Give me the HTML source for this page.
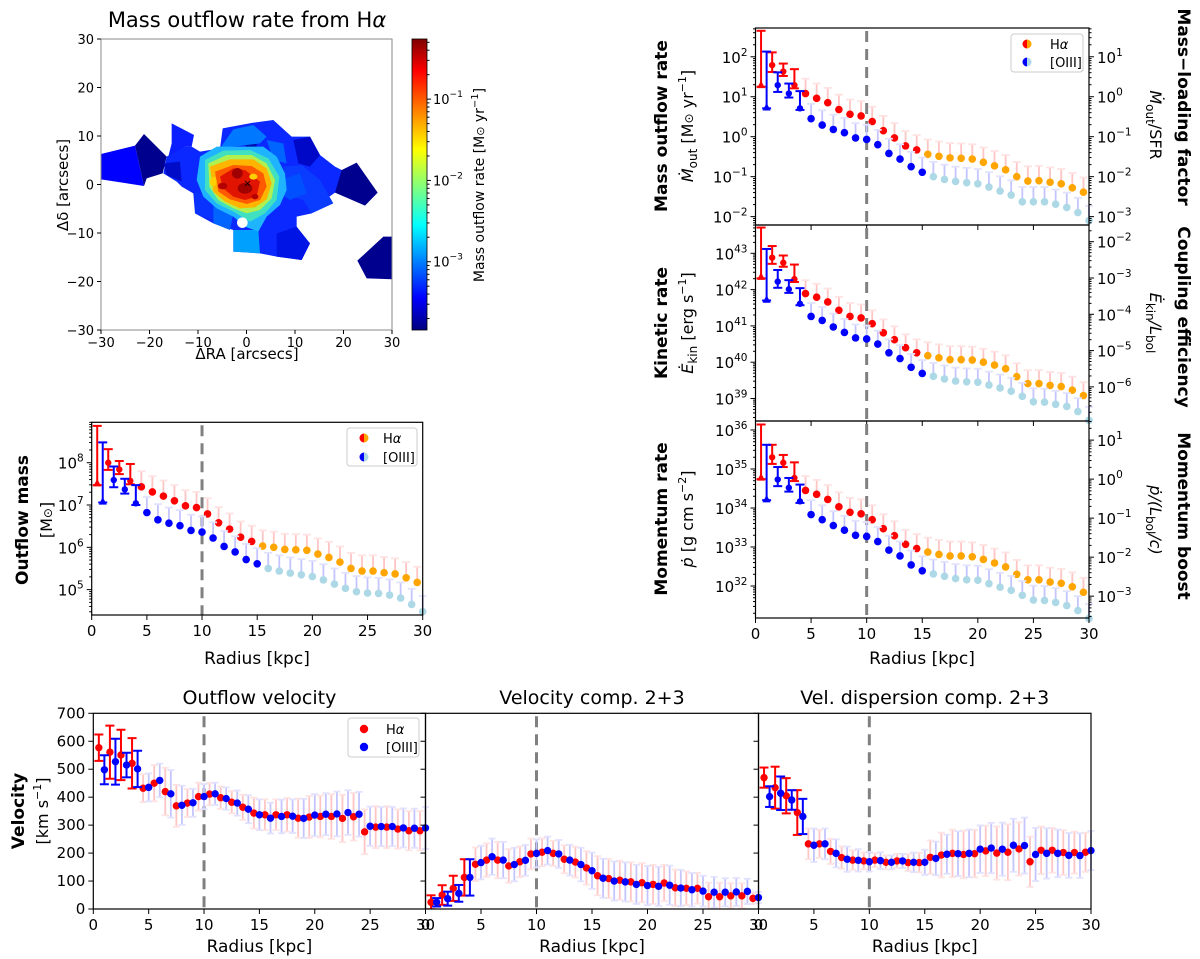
<!DOCTYPE html>
<html><head><meta charset="utf-8">
<style>
html,body{margin:0;padding:0;background:#fff;}
svg{display:block;font-family:"DejaVu Sans","Liberation Sans",sans-serif;}
</style></head>
<body>
<svg id="fig" width="1200" height="959" viewBox="0 0 1200 959" xmlns="http://www.w3.org/2000/svg">
<defs>
<linearGradient id="jet" x1="0" y1="1" x2="0" y2="0">
<stop offset="0" stop-color="#00007f"/><stop offset="0.11" stop-color="#0000ff"/><stop offset="0.36" stop-color="#00ffff"/><stop offset="0.62" stop-color="#ffff00"/><stop offset="0.89" stop-color="#ff0000"/><stop offset="1" stop-color="#7f0000"/>
</linearGradient>
<clipPath id="mapclip"><rect x="101" y="39" width="291" height="291"/></clipPath>
</defs>
<!-- Map -->
<g clip-path="url(#mapclip)">
<g transform="scale(0.33333)">
<polygon fill="#0000ff" points="303,462 405,437 432,558 303,538"/>
<polygon fill="#00008f" points="405,437 432,402 500,470 488,520 440,535 432,558"/>
<polygon fill="#0a1eff" points="515,370 582,405 575,440 555,440 545,470 505,470 515,430"/>
<polygon fill="#00008f" points="1005,520 1070,488 1133,578 1095,617 1005,578"/>
<polygon fill="#00008f" points="1072,782 1150,710 1180,710 1180,838 1100,835"/>
<polygon fill="#0a28ff" points="490,520 500,470 555,440 575,440 600,455 660,445 668,385 760,368 820,360 875,410 930,410 960,465 1005,500 1025,510 1005,578 960,610 935,640 890,650 890,700 930,730 905,780 830,770 780,760 700,755 700,690 640,670 585,640 580,580 545,560 530,545"/>
<polygon fill="#000cc8" points="490,490 540,485 545,545 500,525"/>
<polygon fill="#0a3cff" points="850,500 905,495 960,540 1000,610 935,640 910,600 870,590"/>
<polygon fill="#0050ff" points="840,540 900,520 920,580 870,600 840,580"/>
<polygon fill="#0014e6" points="830,700 890,680 930,730 905,780 830,770"/>
<polygon fill="#0008c8" points="880,420 930,410 960,465 930,500 895,490"/>
<polygon fill="#0a32ff" points="585,575 650,600 640,660 585,640"/>
<polygon fill="#000cb0" points="735,430 770,420 770,460 740,455"/>
<polygon fill="#00a0ff" points="700,690 775,690 780,760 700,755"/>
<polygon fill="#0078ff" points="660,445 700,388 760,375 800,410 780,430 700,440"/>
<polygon fill="#0064ff" points="800,420 850,430 860,490 820,480"/>
<polygon fill="#0064ff" points="640,610 700,640 690,690 640,670"/>
<polygon fill="#1eb4ff" points="600,470 650,440 720,440 790,440 830,470 855,520 860,570 840,615 800,650 775,695 735,680 700,650 650,625 610,590 590,540"/>
<polygon fill="#40e0c0" points="615,480 670,452 750,450 805,475 838,530 830,600 795,640 750,665 700,635 650,610 615,570"/>
<polygon fill="#b0f050" points="625,490 680,465 755,465 800,490 825,540 815,595 780,630 740,640 700,625 655,600 628,560"/>
<polygon fill="#ffb400" points="630,500 690,478 760,478 800,505 815,550 800,598 765,622 720,625 675,605 640,575"/>
<polygon fill="#ff5a00" points="645,515 700,495 755,498 790,520 800,560 780,600 740,612 690,598 655,575"/>
<polygon fill="#e01400" points="660,530 700,505 735,510 780,545 770,590 735,600 700,590 670,565"/>
<ellipse fill="#a00000" cx="712" cy="520" rx="16" ry="16"/>
<ellipse fill="#a00000" cx="735" cy="565" rx="22" ry="16"/>
<ellipse fill="#b40000" cx="668" cy="558" rx="14" ry="10"/>
<ellipse fill="#b40000" cx="765" cy="590" rx="10" ry="8"/>
<ellipse fill="#ffd000" cx="760" cy="530" rx="12" ry="9"/>
<ellipse fill="#ffd000" cx="640" cy="545" rx="10" ry="14"/>
<circle fill="#ffffff" cx="727" cy="668" r="16"/>
<text x="730" y="560" font-size="30" fill="#000">×</text>
</g>
</g>
<text x="247" y="27" font-size="21" text-anchor="middle">Mass outflow rate from H<tspan font-style="italic">α</tspan></text>
<text x="247" y="359" font-size="15" text-anchor="middle">ΔRA [arcsecs]</text>
<text transform="translate(68,185) rotate(-90)" font-size="15" text-anchor="middle">Δδ [arcsecs]</text>
<rect x="412" y="39" width="15" height="291" fill="url(#jet)"/>
<text transform="translate(484,185) rotate(-90)" font-size="14" text-anchor="middle">Mass outflow rate [M<tspan font-size="11">⊙</tspan> yr<tspan dy="-6" font-size="10">−1</tspan><tspan dy="6">]</tspan></text>
<g id="plots"></g>
</svg>
<script>
// ---------- data ----------
const radHa = [0.5,1.5,2.5,3.5,4.5,5.5,6.5,7.5,8.5,9.5,10.5,11.5,12.5,13.5,14.5,15.5,16.5,17.5,18.5,19.5,20.5,21.5,22.5,23.5,24.5,25.5,26.5,27.5,28.5,29.5];
const radO3 = [1,2,3,4,5,6,7,8,9,10,11,12,13,14,15,16,17,18,19,20,21,22,23,24,25,26,27,28,29,30];
// log10 values
const mdotHa = [1.29,1.79,1.63,1.29,1.08,0.96,0.85,0.68,0.56,0.52,0.38,0.15,-0.03,-0.23,-0.33,-0.44,-0.49,-0.53,-0.54,-0.56,-0.64,-0.73,-0.83,-1.0,-1.11,-1.1,-1.14,-1.18,-1.28,-1.39];
const mdotO3 = [0.73,1.29,1.08,0.71,0.45,0.29,0.18,0.1,-0.03,-0.07,-0.2,-0.42,-0.56,-0.75,-0.89,-1.0,-1.07,-1.12,-1.15,-1.18,-1.26,-1.36,-1.46,-1.63,-1.63,-1.63,-1.69,-1.77,-1.9,-2.1];
const ekinHa = [42.35,42.88,42.74,42.29,41.89,41.79,41.66,41.43,41.26,41.22,41.06,40.81,40.62,40.4,40.26,40.18,40.12,40.07,40.07,40.06,40.0,39.92,39.82,39.6,39.41,39.41,39.36,39.33,39.23,39.08];
const ekinO3 = [41.72,42.22,42.01,41.61,41.26,41.15,40.97,40.82,40.67,40.64,40.5,40.26,40.1,39.86,39.69,39.61,39.54,39.48,39.46,39.45,39.37,39.29,39.2,39.06,38.91,38.9,38.84,38.78,38.64,38.4];
const pdotHa = [34.78,35.3,35.16,34.77,34.45,34.35,34.22,34.03,33.89,33.85,33.7,33.47,33.29,33.07,32.96,32.87,32.81,32.77,32.77,32.75,32.68,32.59,32.49,32.3,32.16,32.16,32.1,32.07,31.98,31.84];
const pdotO3 = [34.22,34.73,34.52,34.17,33.83,33.7,33.55,33.43,33.3,33.27,33.14,32.92,32.77,32.54,32.39,32.31,32.25,32.19,32.16,32.15,32.06,31.97,31.89,31.76,31.64,31.63,31.58,31.5,31.37,31.17];
const massHa = [7.51,8.0,7.84,7.57,7.43,7.31,7.21,7.1,6.98,6.94,6.79,6.58,6.43,6.24,6.14,6.03,6.0,5.95,5.94,5.93,5.84,5.76,5.65,5.5,5.44,5.44,5.4,5.37,5.28,5.17];
const massO3 = [7.08,7.59,7.37,7.04,6.82,6.65,6.57,6.51,6.4,6.36,6.22,6.02,5.89,5.71,5.61,5.5,5.44,5.39,5.35,5.31,5.23,5.13,5.03,4.95,4.92,4.91,4.87,4.8,4.65,4.48];
// error bars of inner points (decades)
const innerUpHa = [1.36,0.32,0.2,0.4];
const innerDnHa = [0.04,0.17,0.11,0.08];
const innerUpO3 = [1.4,0.32,0.25,0.43];
const innerDnO3 = [0.02,0.17,0.1,0.04];
const outerUpErr = [0.37];
// velocities (km/s)
const voutHa = [577,561,551,521,432,450,420,369,379,402,411,398,382,364,343,337,337,337,325,329,331,331,324,330,276,293,293,286,280,280];
const voutO3 = [498,527,515,501,435,460,412,371,380,402,412,395,379,357,337,325,331,332,324,336,339,340,345,339,296,295,295,290,289,290];
const voutErrHa = [47,95,90,90,50,65,85,75,50,50,40,40,40,45,55,55,55,60,70,75,75,80,85,85,80,75,75,70,70,70];
const voutErrO3 = [52,82,44,65,50,60,85,70,50,45,40,40,45,50,55,55,60,60,70,75,75,80,80,80,70,70,70,70,70,75];
const vcompHa = [24,50,74,113,160,175,175,154,169,197,203,199,178,168,147,119,109,103,97,94,88,93,76,74,74,44,44,47,47,38];
const vcompO3 = [24,37,56,113,166,187,175,159,174,199,209,197,175,159,137,110,100,97,88,84,81,85,75,69,64,60,60,61,63,41];
const vcompErrHa = [25,35,45,65,60,60,65,60,55,55,50,45,50,55,60,70,70,70,70,70,70,65,65,60,55,50,50,45,45,20];
const vcompErrO3 = [15,25,30,65,60,65,65,60,55,50,50,50,55,60,65,70,70,70,70,70,70,70,65,60,55,55,50,50,45,20];
const sigHa = [470,434,405,345,233,233,206,184,175,172,175,167,172,166,166,185,193,199,195,198,208,200,203,215,169,210,210,202,202,203];
const sigO3 = [402,414,390,331,228,233,199,178,174,169,173,167,172,167,167,181,196,198,199,214,218,214,228,227,195,199,199,192,191,209];
const sigErrHa = [36,75,63,80,55,50,45,40,35,30,25,25,25,30,35,60,80,85,85,85,90,95,100,95,90,85,80,80,75,70];
const sigErrO3 = [37,60,35,63,60,55,50,45,40,35,30,25,25,35,45,60,70,80,85,85,90,95,95,100,95,90,85,80,80,70];
const xTicks = [0,5,10,15,20,25,30];
const velTicks = [0,100,200,300,400,500,600,700];
const mapTicks = [-30,-20,-10,0,10,20,30];
const cbTicks = [-1,-2,-3];

// ---------- drawing helpers ----------
const NS='http://www.w3.org/2000/svg';
const root=document.getElementById('plots');
function el(tag,attrs,parent){const e=document.createElementNS(NS,tag);for(const k in attrs)e.setAttribute(k,attrs[k]);(parent||root).appendChild(e);return e;}
function line(x1,y1,x2,y2,stroke,w,g){return el('line',{x1:x1,y1:y1,x2:x2,y2:y2,stroke:stroke,'stroke-width':w},g);}
function supText(x,y,exp,anchor,g,size){
  const t=el('text',{x:x,y:y,'font-size':size||15,'text-anchor':anchor},g);
  t.textContent='10';
  const s=el('tspan',{dy:-7,'font-size':(size||15)*0.7},t);
  s.textContent=(exp<0?'−':'')+Math.abs(exp);
  return t;
}
function makeAxes(b){
  b.sx=r=>b.x0+r/30*(b.x1-b.x0);
  b.sy=v=>b.yb-(v-b.lo)/(b.hi-b.lo)*(b.yb-b.yt);
  return b;
}
function frame(b,g){
  const r=el('rect',{x:b.x0,y:b.yt,width:b.x1-b.x0,height:b.yb-b.yt,fill:'none',stroke:'#000','stroke-width':1.2},g);
  
  
}
function xAxis(b,g,labels){
  xTicks.forEach(t=>{
    const x=b.sx(t);
    line(x,b.yb,x,b.yb+5,'#000',1,g);
    if(labels){const tx=el('text',{x:x,y:b.yb+21,'font-size':15,'text-anchor':'middle'},g);tx.textContent=String(t);
      
      }
  });
}
function logYAxis(b,g,side,lo,hi,toLocal){
  for(let d=Math.floor(lo)-1;d<=Math.ceil(hi);d++){
    for(let m=1;m<10;m++){
      const v=d+Math.log10(m);
      if(v<lo||v>hi)continue;
      const y=b.sy(toLocal(v));
      const len=m===1?5:2.5;
      if(side==='left')line(b.x0-len,y,b.x0,y,'#000',1,g);
      else line(b.x1,y,b.x1+len,y,'#000',1,g);
      if(m===1){
        const t=side==='left'?supText(b.x0-8,y+6,d,'end',g):supText(b.x1+8,y+6,d,'start',g);
        
        
      }
    }
  }
}
function dashed(b,g){
  const l=line(b.sx(10),b.yt+3,b.sx(10),b.yb,'#808080',3,g);
  l.setAttribute('stroke-dasharray','11,7');
  
  
}
function errBar(x,ya,yb,color,w,cap,g,capTop,capBot,capColor){
  line(x,ya,x,yb,color,w,g);
  if(capTop)line(x-cap,ya,x+cap,ya,capColor||color,w,g);
  if(capBot)line(x-cap,yb,x+cap,yb,capColor||color,w,g);
}
function logSeries(b,g,rad,vals,upIn,dnIn,col1,col2,faint,faintCap,isHa){
  rad.forEach((r,i)=>{
    const x=b.sx(r),y=b.sy(vals[i]);
    if(i<4){
      errBar(x,b.sy(vals[i]+upIn[i]),b.sy(vals[i]-dnIn[i]),col1,2,4.5,g,true,true);
    }else{
      errBar(x,b.sy(vals[i]+outerUpErr[0]),y,faint,1.8,4,g,true,false,faintCap);
    }
  });
  rad.forEach((r,i)=>{
    const x=b.sx(r),y=b.sy(vals[i]);
    const outer=isHa?r>15:r>15.2;
    const c=outer?col2:col1;
    let m;
    if(i===0){m=el('polygon',{points:`${x},${y-4.5} ${x-4},${y+3} ${x+4},${y+3}`,fill:c},g);}
    else m=el('circle',{cx:x,cy:y,r:i<4?3.2:3.8,fill:c},g);
    
    
  });
}
function linSeries(b,g,rad,vals,errs,col,faint,faintCap,isHa){
  rad.forEach((r,i)=>{
    const x=b.sx(r);
    if(i<4)errBar(x,b.sy(vals[i]+errs[i]),b.sy(vals[i]-errs[i]),col,2,4.5,g,true,true);
    else errBar(x,b.sy(vals[i]+errs[i]),b.sy(vals[i]-errs[i]),faint,1.8,3.5,g,true,true,faintCap);
  });
  rad.forEach((r,i)=>{
    const m=el('circle',{cx:b.sx(r),cy:b.sy(vals[i]),r:3.7,fill:col},g);
    
    
  });
}
function halfDot(x,y,c1,c2,g){
  el('path',{d:`M${x},${y-4.5} A4.5,4.5 0 0,0 ${x},${y+4.5} Z`,fill:c1},g);
  el('path',{d:`M${x},${y-4.5} A4.5,4.5 0 0,1 ${x},${y+4.5} Z`,fill:c2},g);
}
function legend(x,y,w,h,mx,tx,r1,r2,half,g){
  const lg=el('g',{},g);
  
  
  el('rect',{x:x,y:y,width:w,height:h,rx:3,fill:'#fff',stroke:'#cccccc','stroke-width':1},lg);
  if(half){halfDot(mx,r1,'#ff0000','#ffa500',lg);halfDot(mx,r2,'#0000ff','#add8e6',lg);}
  else{el('circle',{cx:mx,cy:r1,r:4.2,fill:'#ff0000'},lg);el('circle',{cx:mx,cy:r2,r:4.2,fill:'#0000ff'},lg);}
  const t1=el('text',{x:tx,y:r1+5,'font-size':13},lg);t1.innerHTML='H<tspan font-style="italic">α</tspan>';
  
  
  const t2=el('text',{x:tx,y:r2+5,'font-size':13},lg);t2.textContent='[OIII]';
  
  
}
function rotText(x,y,html,size,bold,angle,name){
  const t=el('text',{transform:`translate(${x},${y}) rotate(${angle})`,'font-size':size,'text-anchor':'middle','font-weight':bold?'bold':'normal'});
  t.innerHTML=html;
  
  
}
function plainText(x,y,s,size,name){
  const t=el('text',{x:x,y:y,'font-size':size,'text-anchor':'middle'});
  t.innerHTML=s;
  
  
}
const FR='#ffc4c4', FRC='#ffe2e2', FB='#c4c4ff', FBC='#e2e2ff';

// ---------- right stack of log panels ----------
const panels=[
  {name:'mass-outflow-rate-panel',ha:mdotHa,o3:mdotO3,b:makeAxes({x0:755.5,x1:1089,yt:28,yb:225,lo:-2.21,hi:2.72}),off:1,legend:true},
  {name:'kinetic-rate-panel',ha:ekinHa,o3:ekinO3,b:makeAxes({x0:755.5,x1:1089,yt:225,yb:421,lo:38.38,hi:43.78}),off:45.32},
  {name:'momentum-rate-panel',ha:pdotHa,o3:pdotO3,b:makeAxes({x0:755.5,x1:1089,yt:421,yb:618,lo:31.18,hi:36.23}),off:34.74,xl:true}
];
panels.forEach(p=>{
  const g=el('g',{});
  
  
  const b=p.b;
  dashed(b,g);
  logSeries(b,g,radHa,p.ha,innerUpHa,innerDnHa,'#ff0000','#ffa500',FR,FRC,true);
  logSeries(b,g,radO3,p.o3,innerUpO3,innerDnO3,'#0000ff','#add8e6',FB,FBC,false);
  frame(b,g);
  xAxis(b,g,!!p.xl);
  logYAxis(b,g,'left',b.lo,b.hi,v=>v);
  logYAxis(b,g,'right',b.lo-p.off,b.hi-p.off,v=>v+p.off);
  if(p.legend)legend(1011,34,72,38,1027,1050,44,62,true,g);
});
rotText(667,126,'Mass outflow rate',17,true,-90,'y-axis-title-mdot');
rotText(693,126,'<tspan font-style="italic">Ṁ</tspan><tspan font-size="12" dy="4">out</tspan><tspan dy="-4"> [M</tspan><tspan font-size="12">⊙</tspan> yr<tspan font-size="11" dy="-7">−1</tspan><tspan dy="7">]</tspan>',16,false,-90,'y-axis-unit-mdot');
rotText(667,323,'Kinetic rate',17,true,-90,'y-axis-title-ekin');
rotText(693,323,'<tspan font-style="italic">Ė</tspan><tspan font-size="12" dy="4">kin</tspan><tspan dy="-4"> [erg s</tspan><tspan font-size="11" dy="-7">−1</tspan><tspan dy="7">]</tspan>',16,false,-90,'y-axis-unit-ekin');
rotText(667,519,'Momentum rate',17,true,-90,'y-axis-title-pdot');
rotText(693,519,'<tspan font-style="italic">ṗ</tspan> [g cm s<tspan font-size="11" dy="-7">−2</tspan><tspan dy="7">]</tspan>',16,false,-90,'y-axis-unit-pdot');
rotText(1178,107,'Mass−loading factor',17,true,90,'right-axis-title-mass-loading');
rotText(1150,125,'<tspan font-style="italic">Ṁ</tspan><tspan font-size="12" dy="4">out</tspan><tspan dy="-4">/SFR</tspan>',16,false,90,'right-axis-unit-mass-loading');
rotText(1178,317,'Coupling efficiency',17,true,90,'right-axis-title-coupling');
rotText(1150,323,'<tspan font-style="italic">Ė</tspan><tspan font-size="12" dy="4">kin</tspan><tspan dy="-4" font-style="italic">/L</tspan><tspan font-size="12" dy="4">bol</tspan>',16,false,90,'right-axis-unit-coupling');
rotText(1178,516,'Momentum boost',17,true,90,'right-axis-title-momentum-boost');
rotText(1150,520,'<tspan font-style="italic">ṗ/(L</tspan><tspan font-size="12" dy="4">bol</tspan><tspan dy="-4" font-style="italic">/c)</tspan>',16,false,90,'right-axis-unit-momentum-boost');
plainText(922,664,'Radius [kpc]',17,'x-axis-title-right');

// ---------- outflow mass panel ----------
(function(){
  const b=makeAxes({x0:91.7,x1:422.7,yt:422.3,yb:615,lo:4.40,hi:8.955});
  const g=el('g',{});
  
  
  dashed(b,g);
  logSeries(b,g,radHa,massHa,innerUpHa,innerDnHa,'#ff0000','#ffa500',FR,FRC,true);
  logSeries(b,g,radO3,massO3,innerUpO3,innerDnO3,'#0000ff','#add8e6',FB,FBC,false);
  frame(b,g);
  xAxis(b,g,true);
  logYAxis(b,g,'left',b.lo,b.hi,v=>v);
  legend(347,428,70,38,364,383,438,457,true,g);
})();
rotText(28,520,'Outflow mass',17,true,-90,'y-axis-title-mass');
rotText(52,520,'[M<tspan font-size="12">⊙</tspan>]',16,false,-90,'y-axis-unit-mass');
plainText(257,664,'Radius [kpc]',17,'x-axis-title-mass');

// ---------- velocity panels ----------
const vpanels=[
  {name:'outflow-velocity-panel',title:'Outflow velocity',ha:voutHa,o3:voutO3,eh:voutErrHa,eo:voutErrO3,x0:93.3,x1:425.5,yl:true,legend:true},
  {name:'velocity-comp-panel',title:'Velocity comp. 2+3',ha:vcompHa,o3:vcompO3,eh:vcompErrHa,eo:vcompErrO3,x0:425.5,x1:758.5},
  {name:'dispersion-comp-panel',title:'Vel. dispersion comp. 2+3',ha:sigHa,o3:sigO3,eh:sigErrHa,eo:sigErrO3,x0:758.5,x1:1091}
];
vpanels.forEach(p=>{
  const b=makeAxes({x0:p.x0,x1:p.x1,yt:713.3,yb:909,lo:0,hi:700});
  const g=el('g',{});
  
  
  const cg=el('g',{},g);
  const cid='clip'+Math.round(p.x0);
  const cp=el('clipPath',{id:cid},cg);
  el('rect',{x:b.x0,y:b.yt,width:b.x1-b.x0+6,height:b.yb-b.yt},cp);
  const inner=el('g',{'clip-path':`url(#${cid})`},g);
  dashed(b,inner);
  linSeries(b,inner,radHa,p.ha,p.eh,'#ff0000',FR,FRC,true);
  linSeries(b,inner,radO3,p.o3,p.eo,'#0000ff',FB,FBC,false);
  frame(b,g);
  xAxis(b,g,true);
  velTicks.forEach(v=>{
    const y=b.sy(v);
    line(b.x0-5,y,b.x0,y,'#000',1,g);
    if(p.yl){const t=el('text',{x:b.x0-8,y:y+5,'font-size':15,'text-anchor':'end'},g);t.textContent=String(v);
      
      }
  });
  if(p.legend)legend(348,718,71,39,364,386,729,747,false,g);
  plainText((b.x0+b.x1)/2,704,p.title,19,'panel-title');
  plainText((b.x0+b.x1)/2,952,'Radius [kpc]',17,'x-axis-title');
});
rotText(24,811,'Velocity',17,true,-90,'y-axis-title-velocity');
rotText(48,811,'[km s<tspan font-size="11" dy="-7">−1</tspan><tspan dy="7">]</tspan>',16,false,-90,'y-axis-unit-velocity');

// ---------- map axes ----------
(function(){
  const g=el('g',{});
  
  
  const x0=101,x1=392,yt=39,yb=330;
  const sx=v=>x0+(v+30)/60*(x1-x0), sy=v=>yb-(v+30)/60*(yb-yt);
  el('rect',{x:x0,y:yt,width:x1-x0,height:yb-yt,fill:'none',stroke:'#888','stroke-width':1},g);
  mapTicks.forEach(t=>{
    line(sx(t),yb,sx(t),yb+4,'#000',1,g);
    const a=el('text',{x:sx(t),y:yb+17,'font-size':13,'text-anchor':'middle'},g);a.textContent=(t<0?'−':'')+Math.abs(t);
    
    
    line(x0-4,sy(t),x0,sy(t),'#000',1,g);
    const c=el('text',{x:x0-7,y:sy(t)+5,'font-size':13,'text-anchor':'end'},g);c.textContent=(t<0?'−':'')+Math.abs(t);
    
    
  });
  const lo=-3.84,hi=-0.26,cy=v=>330-(v-lo)/(hi-lo)*291;
  for(let d=-4;d<=0;d++)for(let m=1;m<10;m++){
    const v=d+Math.log10(m); if(v<lo||v>hi)continue;
    const y=cy(v); line(427,y,m===1?431:429.5,y,'#000',1,g);
  }
  cbTicks.forEach(d=>{
    const t=supText(433,cy(d)+5,d,'start',g,13);
    
    
  });
  el('rect',{x:412,y:39,width:15,height:291,fill:'none',stroke:'#000','stroke-width':0.8},g);
})();
</script>
</body></html>
